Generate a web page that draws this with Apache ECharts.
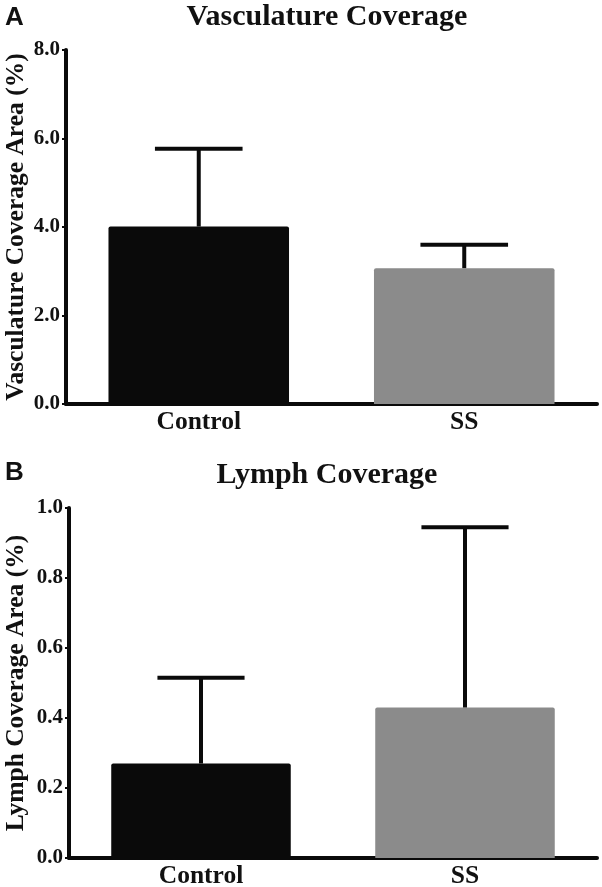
<!DOCTYPE html>
<html>
<head>
<meta charset="utf-8">
<script src="https://cdn.jsdelivr.net/npm/echarts@6/dist/echarts.min.js"></script>
<style>
html,body{margin:0;padding:0;background:#fff;}
#chart{width:602px;height:887px;}
</style>
</head>
<body>
<div id="chart"></div>
<script>
// ---- Data ----
const categories = ['Control', 'SS'];
const vascMean = [4.01, 3.07];
const vascErr = [1.76, 0.53];
const lymphMean = [0.27, 0.43];
const lymphErr = [0.245, 0.515];
const vascTicks = { min: 0, max: 8, interval: 2 };
const lymphTicks = { min: 0, max: 1, interval: 0.2 };
const barColors = ['#0a0a0a', '#8b8b8b'];

const serif = "'Liberation Serif', 'Times New Roman', serif";
const sans = "'Liberation Sans', Arial, sans-serif";

function errRender(params, api) {
  const i = api.value(0);
  const m = api.value(1);
  const e = api.value(2);
  const base = api.coord([i, m]);
  const top = api.coord([i, m + e]);
  const half = api.size([1, 0])[0] * 0.165;
  const style = { stroke: '#0a0a0a', lineWidth: 4, fill: null };
  return {
    type: 'group',
    children: [
      { type: 'line', shape: { x1: top[0], y1: base[1], x2: top[0], y2: top[1] }, style: style },
      { type: 'line', shape: { x1: top[0] - half, y1: top[1], x2: top[0] + half, y2: top[1] }, style: style }
    ]
  };
}

function makeX(gi) {
  return {
    type: 'category', gridIndex: gi, data: categories,
    axisLine: { lineStyle: { color: '#0a0a0a', width: 4 } },
    axisTick: { show: false },
    axisLabel: { color: '#111', fontFamily: serif, fontWeight: 'bold', fontSize: 25.5, margin: 5 }
  };
}
function makeY(gi, t, name, gap) {
  return {
    type: 'value', gridIndex: gi, min: t.min, max: t.max, interval: t.interval,
    name: name, nameLocation: 'middle', nameRotate: 90, nameGap: gap, nameMoveOverlap: false,
    nameTextStyle: { color: '#111', fontFamily: serif, fontWeight: 'bold', fontSize: 25.5 },
    splitLine: { show: false },
    axisLine: { show: true, lineStyle: { color: '#0a0a0a', width: 4 } },
    axisTick: { show: true, length: 4, lineStyle: { color: '#0a0a0a', width: 2 } },
    axisLabel: { color: '#111', fontFamily: serif, fontWeight: 'bold', fontSize: 21, margin: 6,
      formatter: v => v.toFixed(1) }
  };
}

const chart = echarts.init(document.getElementById('chart'), null, { renderer: 'canvas' });
chart.setOption({
  backgroundColor: '#fff',
  animation: false,
  grid: [
    { left: 66, right: 5, top: 50, bottom: 483, containLabel: false, outerBoundsMode: 'none' },
    { left: 69, right: 5, top: 508, bottom: 29, containLabel: false, outerBoundsMode: 'none' }
  ],
  xAxis: [makeX(0), makeX(1)],
  yAxis: [
    makeY(0, vascTicks, 'Vasculature Coverage Area (%)', 37),
    makeY(1, lymphTicks, 'Lymph Coverage Area (%)', 40)
  ],
  graphic: [
    { type: 'text', left: 5, top: 5, style: { text: 'A', font: 'bold 26px ' + sans, fill: '#111' } },
    { type: 'text', left: 5, top: 460, style: { text: 'B', font: 'bold 26px ' + sans, fill: '#111' } },
    { type: 'text', x: 327, y: 17, style: { text: 'Vasculature Coverage', font: 'bold 30px ' + serif, fill: '#111', textAlign: 'center', textVerticalAlign: 'middle' } },
    { type: 'text', x: 327, y: 475, style: { text: 'Lymph Coverage', font: 'bold 30px ' + serif, fill: '#111', textAlign: 'center', textVerticalAlign: 'middle' } }
  ],
  series: [
    { type: 'bar', xAxisIndex: 0, yAxisIndex: 0, barWidth: '68%',
      data: vascMean.map((v, i) => ({ value: v, itemStyle: { color: barColors[i], borderRadius: [2, 2, 0, 0] } })) },
    { type: 'custom', xAxisIndex: 0, yAxisIndex: 0, renderItem: errRender, z: 3,
      data: vascMean.map((v, i) => [i, v, vascErr[i]]) },
    { type: 'bar', xAxisIndex: 1, yAxisIndex: 1, barWidth: '68%',
      data: lymphMean.map((v, i) => ({ value: v, itemStyle: { color: barColors[i], borderRadius: [2, 2, 0, 0] } })) },
    { type: 'custom', xAxisIndex: 1, yAxisIndex: 1, renderItem: errRender, z: 3,
      data: lymphMean.map((v, i) => [i, v, lymphErr[i]]) }
  ]
});
</script>
</body>
</html>
